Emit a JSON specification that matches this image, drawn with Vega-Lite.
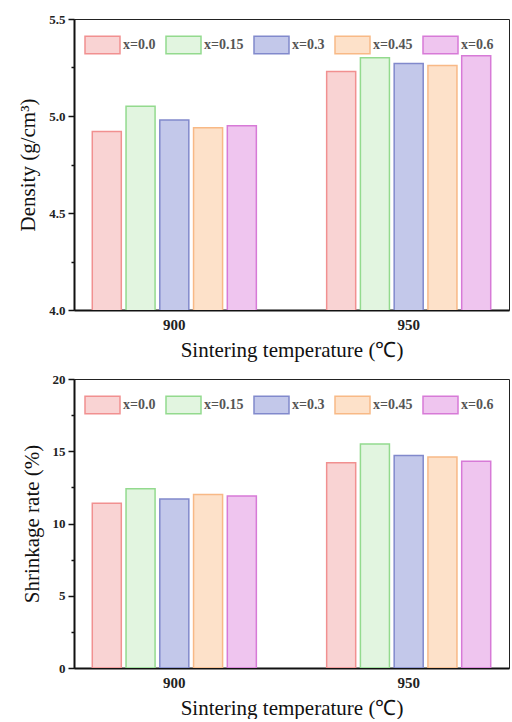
{
  "$schema": "https://vega.github.io/schema/vega-lite/v6.json",
  "padding": {"left": 17, "top": 12, "right": 0, "bottom": 0},
  "background": "white",
  "datasets": {
    "density": [
      {"T": "900", "s": "x=0.0", "v": 4.92},
      {"T": "900", "s": "x=0.15", "v": 5.05},
      {"T": "900", "s": "x=0.3", "v": 4.98},
      {"T": "900", "s": "x=0.45", "v": 4.94},
      {"T": "900", "s": "x=0.6", "v": 4.95},
      {"T": "950", "s": "x=0.0", "v": 5.23},
      {"T": "950", "s": "x=0.15", "v": 5.30},
      {"T": "950", "s": "x=0.3", "v": 5.27},
      {"T": "950", "s": "x=0.45", "v": 5.26},
      {"T": "950", "s": "x=0.6", "v": 5.31}
    ],
    "shrink": [
      {"T": "900", "s": "x=0.0", "v": 11.4},
      {"T": "900", "s": "x=0.15", "v": 12.4},
      {"T": "900", "s": "x=0.3", "v": 11.7},
      {"T": "900", "s": "x=0.45", "v": 12.0},
      {"T": "900", "s": "x=0.6", "v": 11.9},
      {"T": "950", "s": "x=0.0", "v": 14.2},
      {"T": "950", "s": "x=0.15", "v": 15.5},
      {"T": "950", "s": "x=0.3", "v": 14.7},
      {"T": "950", "s": "x=0.45", "v": 14.6},
      {"T": "950", "s": "x=0.6", "v": 14.3}
    ]
  },
  "config": {
    "view": {"stroke": "#222", "strokeWidth": 1},
    "axis": {
      "domainColor": "#111",
      "domainWidth": 2,
      "tickColor": "#111",
      "tickWidth": 1.5,
      "labelFont": "Liberation Serif",
      "labelFontWeight": "bold",
      "labelColor": "#222",
      "titleFont": "Liberation Serif",
      "titleFontWeight": "normal",
      "titleFontSize": 21,
      "titleColor": "#111",
      "grid": false
    },
    "legend": {
      "orient": "none",
      "legendX": 10,
      "legendY": 7,
      "direction": "horizontal",
      "columns": 5,
      "columnPadding": 7,
      "padding": 0,
      "title": null,
      "symbolType": "M-1,-0.5H1V0.5H-1Z",
      "symbolSize": 1225,
      "symbolStrokeWidth": 1.5,
      "labelFont": "Liberation Serif, DejaVu Serif",
      "labelFontSize": 14,
      "labelFontWeight": "bold",
      "labelColor": "#555",
      "labelOffset": 2,
      "labelExpr": "replace(datum.label, 'x', '𝑥')"
    },
    "bar": {"strokeWidth": 1.5, "clip": true}
  },
  "spacing": 69,
  "bounds": "flush",
  "resolve": {
    "legend": {"fill": "independent", "stroke": "independent"}
  },
  "vconcat": [
    {
      "width": 435,
      "height": 291,
      "data": {"name": "density"},
      "mark": {"type": "bar", "clip": true},
      "encoding": {
        "x": {
          "field": "T", "type": "nominal",
          "scale": {"paddingInner": 0.3, "paddingOuter": 0.078},
          "axis": {"title": "Sintering temperature (℃)", "labelAngle": 0, "labelFontSize": 15, "ticks": false, "labelPadding": 7, "titlePadding": 7}
        },
        "xOffset": {
          "field": "s", "type": "nominal",
          "sort": ["x=0.0", "x=0.15", "x=0.3", "x=0.45", "x=0.6"],
          "scale": {"paddingInner": 0.14, "paddingOuter": 0}
        },
        "y": {
          "field": "v", "type": "quantitative",
          "scale": {"domain": [4.0, 5.5], "zero": false, "nice": false},
          "axis": {
            "title": "Density (g/cm³)",
            "values": [4.0, 4.25, 4.5, 4.75, 5.0, 5.25, 5.5],
            "labelExpr": "(datum.value * 4) % 2 === 0 ? format(datum.value, '.1f') : ''",
            "tickSize": {"condition": {"test": "(datum.value * 4) % 2 === 0", "value": 6}, "value": 3},
            "labelFontSize": 13,
            "labelPadding": 3,
            "titlePadding": 10
          }
        },
        "fill": {
          "field": "s", "type": "nominal",
          "sort": ["x=0.0", "x=0.15", "x=0.3", "x=0.45", "x=0.6"],
          "scale": {"domain": ["x=0.0", "x=0.15", "x=0.3", "x=0.45", "x=0.6"], "range": ["#f9d3d3", "#e2f5e0", "#c3c8ea", "#fde1c9", "#efc5ef"]}
        },
        "stroke": {
          "field": "s", "type": "nominal",
          "sort": ["x=0.0", "x=0.15", "x=0.3", "x=0.45", "x=0.6"],
          "scale": {"domain": ["x=0.0", "x=0.15", "x=0.3", "x=0.45", "x=0.6"], "range": ["#f19090", "#93da8e", "#8189cc", "#f8b986", "#d77ad7"]}
        }
      }
    },
    {
      "width": 435,
      "height": 289,
      "data": {"name": "shrink"},
      "mark": {"type": "bar", "clip": true},
      "encoding": {
        "x": {
          "field": "T", "type": "nominal",
          "scale": {"paddingInner": 0.3, "paddingOuter": 0.078},
          "axis": {"title": "Sintering temperature (℃)", "labelAngle": 0, "labelFontSize": 15, "ticks": false, "labelPadding": 7, "titlePadding": 7}
        },
        "xOffset": {
          "field": "s", "type": "nominal",
          "sort": ["x=0.0", "x=0.15", "x=0.3", "x=0.45", "x=0.6"],
          "scale": {"paddingInner": 0.14, "paddingOuter": 0}
        },
        "y": {
          "field": "v", "type": "quantitative",
          "scale": {"domain": [0, 20], "nice": false},
          "axis": {
            "title": "Shrinkage rate (%)",
            "values": [0, 2.5, 5, 7.5, 10, 12.5, 15, 17.5, 20],
            "labelExpr": "datum.value % 5 === 0 ? format(datum.value, 'd') : ''",
            "tickSize": {"condition": {"test": "datum.value % 5 === 0", "value": 6}, "value": 3},
            "labelFontSize": 13,
            "labelPadding": 3,
            "titlePadding": 10
          }
        },
        "fill": {
          "field": "s", "type": "nominal",
          "sort": ["x=0.0", "x=0.15", "x=0.3", "x=0.45", "x=0.6"],
          "scale": {"domain": ["x=0.0", "x=0.15", "x=0.3", "x=0.45", "x=0.6"], "range": ["#f9d3d3", "#e2f5e0", "#c3c8ea", "#fde1c9", "#efc5ef"]}
        },
        "stroke": {
          "field": "s", "type": "nominal",
          "sort": ["x=0.0", "x=0.15", "x=0.3", "x=0.45", "x=0.6"],
          "scale": {"domain": ["x=0.0", "x=0.15", "x=0.3", "x=0.45", "x=0.6"], "range": ["#f19090", "#93da8e", "#8189cc", "#f8b986", "#d77ad7"]}
        }
      }
    }
  ]
}
